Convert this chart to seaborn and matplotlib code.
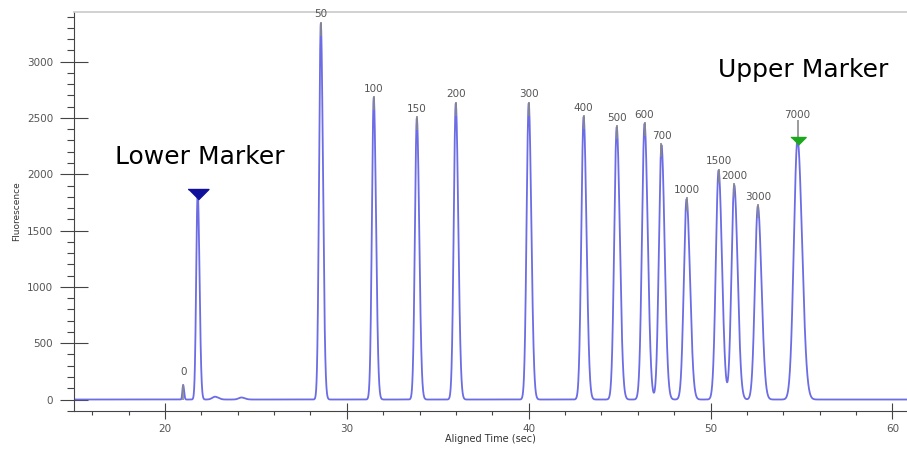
import matplotlib.pyplot as plt
import numpy as np
import pandas as pd
import seaborn as sns
from matplotlib.ticker import MultipleLocator

sns.set_theme(style='ticks')
plt.rcParams['font.family'] = ['DejaVu Sans']

# sizing ladder peaks
size_labels = ['0', '50', '100', '150', '200', '300', '400', '500', '600',
               '700', '1000', '1500', '2000', '3000', '7000']
size_times = [21.0, 28.57, 31.48, 33.85, 35.99, 40.0, 43.02, 44.84, 46.37,
              47.3, 48.68, 50.44, 51.3, 52.6, 54.78]
size_heights = [130, 3340, 2680, 2500, 2630, 2630, 2510, 2420, 2450,
                2260, 1780, 2035, 1905, 1718, 2310]
size_widths = [0.04, 0.095, 0.1, 0.105, 0.11, 0.115, 0.125, 0.135, 0.14,
               0.14, 0.15, 0.15, 0.15, 0.16, 0.2]

# lower marker (no size label)
lm_time = 21.8
lm_height = 1850
lm_width = 0.08

# small baseline bumps
bump_times = [22.75, 24.2]
bump_heights = [25, 18]
bump_widths = [0.15, 0.15]


def peak(t, t0, h, w, tail=1.25):
    s = np.where(t < t0, w, w * tail)
    return h * np.exp(-(t - t0) ** 2 / (2 * s ** 2))


t = np.linspace(15, 61, 6000)
signal = peak(t, lm_time, lm_height, lm_width)
for t0, h, w in zip(size_times + bump_times, size_heights + bump_heights,
                    size_widths + bump_widths):
    signal = signal + peak(t, t0, h, w)

df = pd.DataFrame({'time': t, 'signal': signal})

fig = plt.figure(figsize=(9.07, 4.53), dpi=100)
ax = fig.add_axes([74 / 907, 42 / 453, 833 / 907, 399 / 453])

sns.lineplot(data=df, x='time', y='signal', ax=ax, estimator=None,
             color='#5c5ce2', lw=1.3, alpha=0.9)

# peak labels with grey leader ticks
for lab, t0, h in zip(size_labels, size_times, size_heights):
    if lab == '7000':
        ax.vlines(t0, h, h + 170, color='#8a8a8a', lw=1.2, zorder=3)
        ax.text(t0, h + 215, lab, ha='center', va='center', fontsize=7.5, color='#555555')
    elif lab == '0':
        ax.vlines(t0, 0, h, color='#8a8a8a', lw=1.2, zorder=3)
        ax.text(t0, h + 110, lab, ha='center', va='center', fontsize=7.5, color='#555555')
    else:
        ax.vlines(t0, h - 110, h + 15, color='#8a8a8a', lw=1.2, zorder=3)
        ax.text(t0, h + 80, lab, ha='center', va='center', fontsize=7.5, color='#555555')

# marker triangles
tri = [(-1, 0), (1, 0), (0, -1)]
ax.plot([lm_time], [lm_height + 20], marker=tri, ms=15, color='#10109a', ls='none', zorder=4)
ax.plot([size_times[-1]], [size_heights[-1] + 20], marker=tri, ms=11, color='#1ca81c', ls='none', zorder=4)

ax.text(21.9, 2154, 'Lower Marker', ha='center', va='center', fontsize=18, color='black')
ax.text(55.08, 2926, 'Upper Marker', ha='center', va='center', fontsize=18, color='black')

ax.set_xlim(15, 60.8)
ax.set_ylim(-102, 3441)
ax.set_xticks(range(20, 61, 10))
ax.xaxis.set_minor_locator(MultipleLocator(2))
ax.set_yticks(range(0, 3001, 500))
ax.yaxis.set_minor_locator(MultipleLocator(100))
ax.tick_params(which='both', colors='#444444', labelsize=7.5, labelcolor='#555555', width=0.8)
ax.tick_params(axis='y', which='major', direction='inout', length=20, pad=5)
ax.tick_params(axis='y', which='minor', direction='out', length=5)
ax.tick_params(axis='x', which='major', direction='inout', length=11.5, pad=3.5)
ax.tick_params(axis='x', which='minor', direction='out', length=3)

ax.set_xlabel('Aligned Time (sec)', fontsize=7, color='#333333', labelpad=0)
ax.set_ylabel('Fluorescence', fontsize=6.5, color='#333333', labelpad=4)

ax.spines['top'].set_color('#cccccc')
ax.spines['right'].set_visible(False)
for side in ['left', 'bottom']:
    ax.spines[side].set_color('#444444')
    ax.spines[side].set_linewidth(0.8)

fig.savefig('out.png', dpi=100)
